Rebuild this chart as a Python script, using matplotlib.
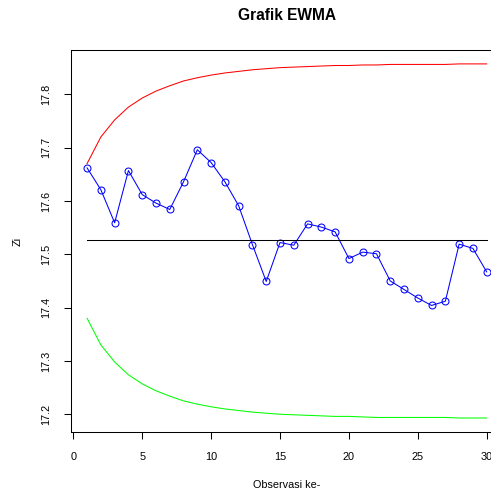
"""
Grafik EWMA - recreation of an R base-graphics control chart
"""

import matplotlib
matplotlib.use('Agg')
import matplotlib.pyplot as plt

plt.rcParams['font.family'] = ['Liberation Sans', 'DejaVu Sans']

# observation index
obs = list(range(1, 31))

# EWMA statistic Zi
zi = [17.662, 17.621, 17.559, 17.657, 17.612, 17.596, 17.584, 17.636, 17.696, 17.672,
      17.636, 17.591, 17.518, 17.449, 17.522, 17.517, 17.557, 17.551, 17.542, 17.492,
      17.504, 17.501, 17.450, 17.434, 17.418, 17.404, 17.412, 17.519, 17.511, 17.467]

# control limits
ucl = [17.670, 17.720, 17.752, 17.776, 17.793, 17.806, 17.816, 17.825, 17.831, 17.836,
       17.840, 17.843, 17.846, 17.848, 17.850, 17.851, 17.852, 17.853, 17.854, 17.854,
       17.855, 17.855, 17.856, 17.856, 17.856, 17.856, 17.856, 17.857, 17.857, 17.857]
lcl = [17.380, 17.330, 17.298, 17.274, 17.257, 17.244, 17.234, 17.225, 17.219, 17.214,
       17.210, 17.207, 17.204, 17.202, 17.200, 17.199, 17.198, 17.197, 17.196, 17.196,
       17.195, 17.194, 17.194, 17.194, 17.194, 17.194, 17.194, 17.193, 17.193, 17.193]
center = 17.526

xticks = [0, 5, 10, 15, 20, 25, 30]
yticks = [17.2, 17.3, 17.4, 17.5, 17.6, 17.7, 17.8]

fig = plt.figure(figsize=(4.91, 4.97), dpi=100)
# plot region runs past the right edge, like the cropped original
ax = fig.add_axes([0.1448, 0.130, 0.879, 0.7704])

ax.plot(obs, zi, color='blue', lw=0.75, marker='o', ms=5.0,
        mfc='none', mec='blue', mew=0.75)
ax.plot(obs, ucl, color='red', lw=0.75)
ax.plot(obs, lcl, color='#00FF00', lw=0.75)
ax.plot([obs[0], obs[-1]], [center, center], color='black', lw=0.75)

ax.set_xlim(-0.16, 31.16)
ax.set_ylim(17.166, 17.884)
ax.set_xticks(xticks)
ax.set_yticks(yticks)
ax.set_yticklabels([str(t) for t in yticks], rotation=90, va='center')
ax.tick_params(direction='out', length=5, width=0.75, labelsize=7.8, colors='black')
ax.tick_params(axis='x', pad=9)
ax.tick_params(axis='y', pad=9)
for s in ax.spines.values():
    s.set_linewidth(0.75)

ax.set_title('Grafik EWMA', fontsize=11.2, fontweight='bold', pad=21)
ax.set_xlabel('Observasi ke-', fontsize=7.8, labelpad=13)
ax.set_ylabel('Zi', fontsize=7.8, labelpad=14)

fig.savefig('out.png', dpi=100)
